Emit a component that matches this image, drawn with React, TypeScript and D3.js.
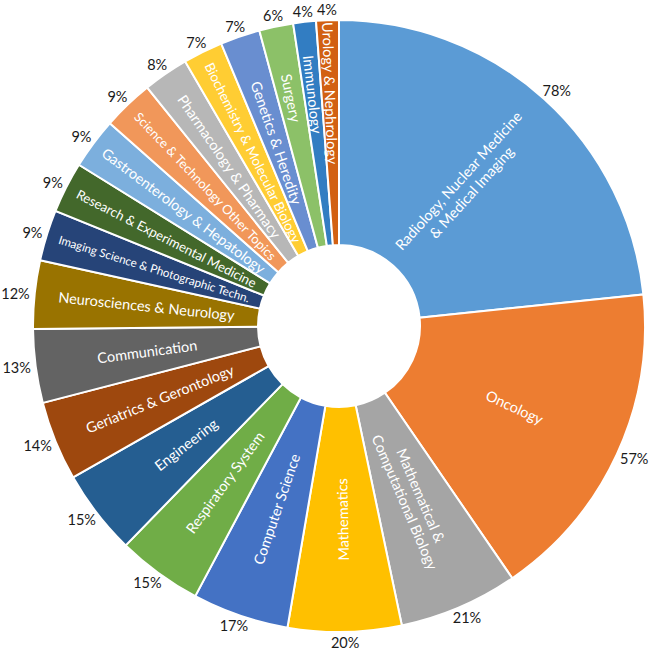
import React, { useMemo } from 'react';
import * as d3 from 'd3';

const categories = [
  'Radiology, Nuclear Medicine\n& Medical Imaging',
  'Oncology',
  'Mathematical &\nComputational Biology',
  'Mathematics',
  'Computer Science',
  'Respiratory System',
  'Engineering',
  'Geriatrics & Gerontology',
  'Communication',
  'Neurosciences & Neurology',
  'Imaging Science & Photographic Techn.',
  'Research & Experimental Medicine',
  'Gastroenterology & Hepatology',
  'Science & Technology Other Topics',
  'Pharmacology & Pharmacy',
  'Biochemistry & Molecular Biology',
  'Genetics & Heredity',
  'Surgery',
  'Immunology',
  'Urology & Nephrology',
];

const values = [78, 57, 21, 20, 17, 15, 15, 14, 13, 12, 9, 9, 9, 9, 8, 7, 7, 6, 4, 4];

const percentLabels = values.map((v) => `${v}%`);

const colors = [
  '#5B9BD5', '#ED7D31', '#A5A5A5', '#FFC000', '#4472C4', '#70AD47',
  '#255E91', '#9E480E', '#636363', '#997300', '#264478', '#43682B',
  '#7CAFDD', '#F1975A', '#B7B7B7', '#FFCD33', '#698ED0', '#8CC168',
  '#327DC2', '#D26012',
];

const W = 657;
const H = 652;
const CX = 339;
const CY = 326;
const R_OUT = 306;
const R_IN = 81;
const FONT = 'Lato, "Open Sans", sans-serif';
const BASE_SIZE = 14.5;
const MAX_LEN = 200;

let ctx: CanvasRenderingContext2D | null = null;
function measure(text: string, size: number) {
  if (!ctx) {
    const c = document.createElement('canvas');
    ctx = c.getContext('2d');
  }
  if (!ctx) return text.length * size * 0.5;
  ctx.font = `${size}px Lato`;
  return ctx.measureText(text).width;
}

export default function App() {
  const arcs = useMemo(
    () => d3.pie<number>().sort(null).value((d) => d).startAngle(0).endAngle(2 * Math.PI)(values),
    []
  );
  const arcGen = d3.arc<d3.PieArcDatum<number>>().innerRadius(R_IN).outerRadius(R_OUT);

  return (
    <svg
      width={W}
      height={H}
      style={{ position: 'absolute', left: 0, top: 0, fontFamily: FONT }}
    >
      <rect width={W} height={H} fill="#fff" />
      <g transform={`translate(${CX},${CY})`}>
        {arcs.map((a, i) => (
          <path key={`s${i}`} d={arcGen(a) || ''} fill={colors[i]} stroke="#fff" strokeWidth={2} />
        ))}
        {arcs.map((a, i) => {
          const mid = (a.startAngle + a.endAngle) / 2;
          const deg = (mid * 180) / Math.PI;
          const widthDeg = ((a.endAngle - a.startAngle) * 180) / Math.PI;
          const lines = categories[i].split('\n');
          const maxW = Math.max(...lines.map((l) => measure(l, BASE_SIZE)));
          const size = Math.min(BASE_SIZE, (BASE_SIZE * MAX_LEN) / maxW);
          const r = widthDeg < 7 ? 233 : lines.length > 1 ? 188 : (R_IN + R_OUT) / 2;
          const x = Math.sin(mid) * r;
          const y = -Math.cos(mid) * r;
          const rot = deg < 175 ? deg - 90 : deg + 90;
          const lh = size * 1.2;
          const off = -((lines.length - 1) * lh) / 2;
          return (
            <g key={`l${i}`} transform={`translate(${x},${y}) rotate(${rot})`}>
              {lines.map((l, j) => (
                <text
                  key={j}
                  x={0}
                  y={off + j * lh}
                  textAnchor="middle"
                  dominantBaseline="central"
                  fill="#fff"
                  fontSize={size}
                >
                  {l}
                </text>
              ))}
            </g>
          );
        })}
        {arcs.map((a, i) => {
          const mid = (a.startAngle + a.endAngle) / 2;
          const dx = Math.sin(mid);
          const dy = -Math.cos(mid);
          const w = measure(percentLabels[i], BASE_SIZE);
          const h = 12;
          const gap = 5;
          const x = dx * (R_OUT + gap) + (dx * w) / 2;
          const y = dy * (R_OUT + gap) + (dy * h) / 2;
          return (
            <text
              key={`p${i}`}
              x={x}
              y={y}
              textAnchor="middle"
              dominantBaseline="central"
              fill="#1a1a1a"
              fontSize={BASE_SIZE}
            >
              {percentLabels[i]}
            </text>
          );
        })}
      </g>
    </svg>
  );
}
